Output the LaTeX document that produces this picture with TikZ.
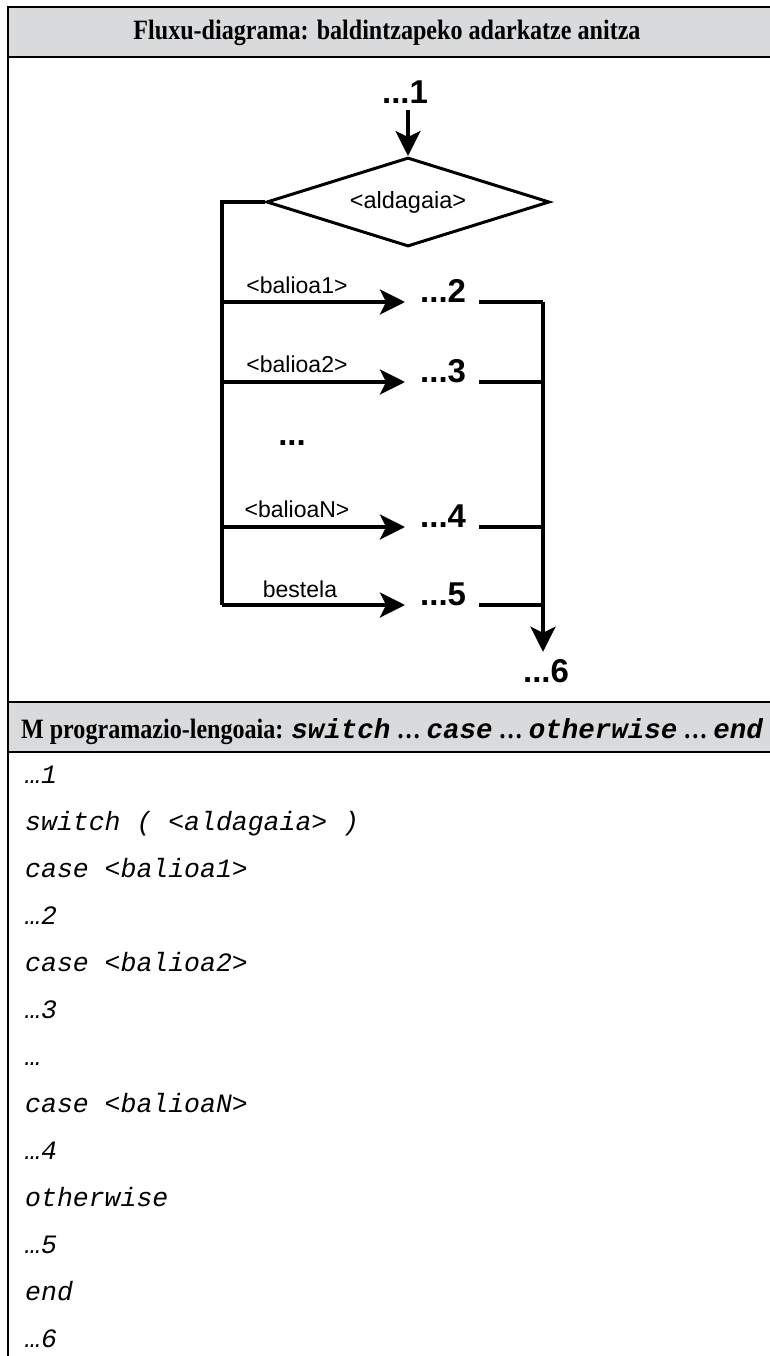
\documentclass[tikz,border=0pt]{standalone}
\usepackage{fontspec}
\setmainfont{Liberation Serif}
\setsansfont{Liberation Sans}
\setmonofont{Liberation Mono}
\newfontfamily\headfont[FakeStretch=0.86]{Liberation Serif}
\usetikzlibrary{shapes.geometric,arrows.meta}
\definecolor{headgray}{RGB}{217,218,220}
\begin{document}
\begin{tikzpicture}[x=1pt,y=-1pt,
  hdr/.style={font=\headfont\fontsize{28}{32}\selectfont\bfseries, inner sep=0pt, anchor=base},
  hmono/.style={font=\ttfamily\fontsize{27.5}{32}\selectfont\bfseries\itshape},
  lbl/.style={font=\sffamily\fontsize{23}{26}\selectfont, inner sep=0pt, anchor=base},
  bignum/.style={font=\sffamily\bfseries\fontsize{33}{36}\selectfont, inner sep=0pt, anchor=base west},
  code/.style={font=\ttfamily\itshape\fontsize{26.5}{30}\selectfont, inner sep=0pt, anchor=base west},
  flow/.style={line width=3.4pt},
  arr/.style={flow, -{Stealth[length=25pt,width=25pt,inset=6pt]}},
  headbox/.style={line width=2pt, draw=black, fill=headgray},
]
\useasboundingbox (0,0) rectangle (769,1356);

% table frame and header bars
\draw[headbox] (8,7) rectangle (790,57);
\draw[headbox] (8,702) rectangle (790,752);
\draw[line width=1.6pt] (8,6) -- (8,1360);

\newcommand\kw[1]{{\ttfamily\fontsize{27.5}{32}\selectfont\itshape #1}}
\node[hdr] (h1) at (387,40) {Fluxu-diagrama: baldintzapeko adarkatze anitza};
\node[hdr] (h2) at (392,738) {M programazio-lengoaia: \kw{switch} … \kw{case} … \kw{otherwise} … \kw{end}};

% flowchart
\node[bignum, anchor=base] (s1) at (405,104) {...1};
\node[diamond, draw, line width=3pt, aspect=3.2, minimum width=283pt, minimum height=89pt,
      inner sep=0pt, font=\sffamily\fontsize{23.5}{26}\selectfont] (dec) at (408,202) {<aldagaia>};
\draw[arr] ([yshift=-6pt]s1.south -| dec.north) -- (dec.north);

\coordinate (lc) at (222,202);
\coordinate (lb) at (222,605);
\coordinate (rt) at (543,302);

\node[bignum] (n2) at (420,302) {...2};
\node[bignum] (n3) at (420,382) {...3};
\node[bignum] (n4) at (420,527) {...4};
\node[bignum] (n5) at (420,605) {...5};
\node[bignum, anchor=base] (n6) at (546,682) {...6};
\node[bignum, anchor=base] (dots) at (292,445) {...};

\node[lbl] (v1) at (297,293) {<balioa1>};
\node[lbl] (v2) at (297,372) {<balioa2>};
\node[lbl] (vn) at (297,517) {<balioaN>};
\node[lbl] (v5) at (300,597) {bestela};

\draw[line width=4.5pt, line join=miter] (dec.west) -- (lc) -- (lb);
\foreach \n in {n2,n3,n4,n5}{
  \draw[arr] (lc |- \n.base) -- ([xshift=-15pt]\n.base west);
  \draw[flow] ([xshift=13pt]\n.base east) -- (rt |- \n.base);
}
\draw[arr] (rt) -- ([yshift=7pt]n6.north -| rt);

% program text
\foreach \t [count=\i] in {…1, {switch ( <aldagaia> )}, {case <balioa1>}, …2, {case <balioa2>}, …3, …,
    {case <balioaN>}, …4, otherwise, …5, end, …6}
  \node[code] (c\i) at (25,{736+47*\i}) {\t};
\end{tikzpicture}
\end{document}
